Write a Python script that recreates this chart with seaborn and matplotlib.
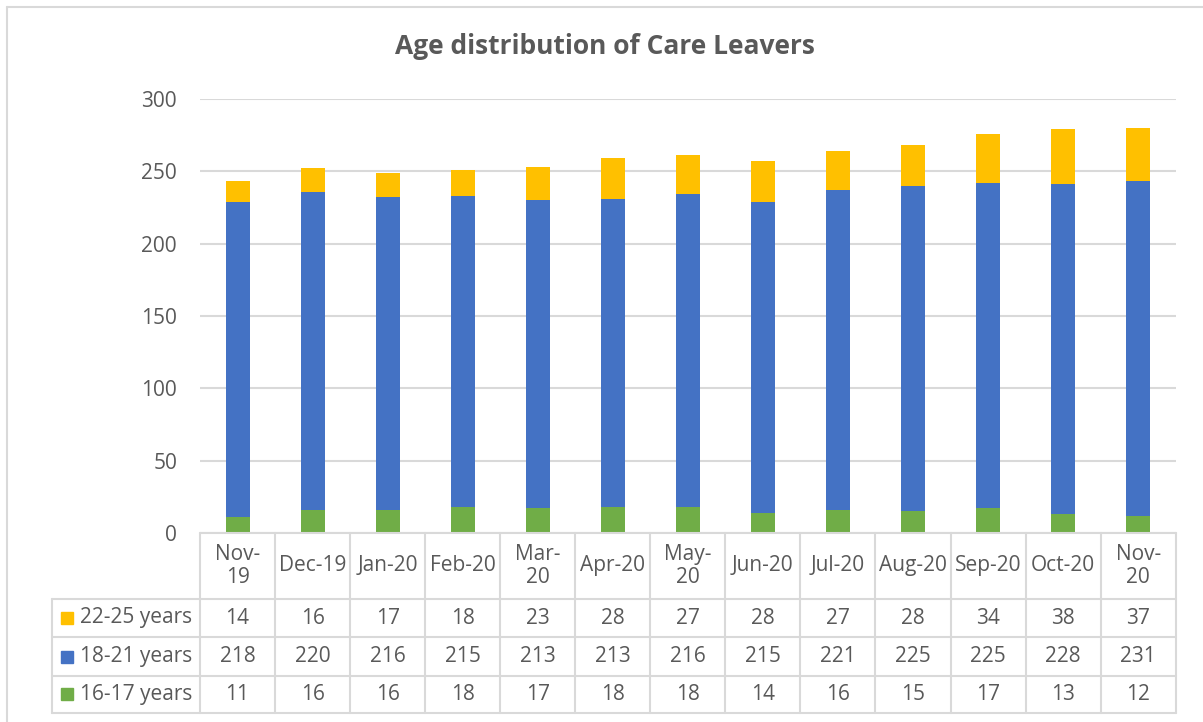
import matplotlib
matplotlib.use("Agg")
import matplotlib.pyplot as plt
import seaborn as sns
import pandas as pd
import numpy as np
from matplotlib.lines import Line2D
from matplotlib.patches import Rectangle

months = ["Nov-19", "Dec-19", "Jan-20", "Feb-20", "Mar-20", "Apr-20", "May-20",
          "Jun-20", "Jul-20", "Aug-20", "Sep-20", "Oct-20", "Nov-20"]
header_labels = ["Nov-\n19", "Dec-19", "Jan-20", "Feb-20", "Mar-\n20", "Apr-20", "May-\n20",
                 "Jun-20", "Jul-20", "Aug-20", "Sep-20", "Oct-20", "Nov-\n20"]
age_22_25 = [14, 16, 17, 18, 23, 28, 27, 28, 27, 28, 34, 38, 37]
age_18_21 = [218, 220, 216, 215, 213, 213, 216, 215, 221, 225, 225, 228, 231]
age_16_17 = [11, 16, 16, 18, 17, 18, 18, 14, 16, 15, 17, 13, 12]
series_names = ["22-25 years", "18-21 years", "16-17 years"]
colors = {"22-25 years": "#FFC000", "18-21 years": "#4472C4", "16-17 years": "#70AD47"}
yticks = [0, 50, 100, 150, 200, 250, 300]

sns.set_theme(style="white")
plt.rcParams['font.family'] = ['Open Sans', 'DejaVu Sans']
TXT = "#595959"
GRID = "#D9D9D9"
FS = 15

W, H = 1203, 722
fig = plt.figure(figsize=(W / 100, H / 100), dpi=100)

def fx(px):
    return px / W

def fy(py):
    return 1 - py / H

x0, x1 = 200, 1175.7
y_top, y_zero = 99, 533
ax = fig.add_axes([fx(x0), fy(y_zero), fx(x1) - fx(x0), (y_zero - y_top) / H])

df = pd.DataFrame({"month": months, "a": age_16_17, "b": age_18_21, "c": age_22_25})
df["ab"] = df["a"] + df["b"]
df["abc"] = df["ab"] + df["c"]

bw = 0.32
sns.barplot(data=df, x="month", y="abc", color=colors["22-25 years"], saturation=1,
            width=bw, ax=ax, order=months, edgecolor="none")
sns.barplot(data=df, x="month", y="ab", color=colors["18-21 years"], saturation=1,
            width=bw, ax=ax, order=months, edgecolor="none")
sns.barplot(data=df, x="month", y="a", color=colors["16-17 years"], saturation=1,
            width=bw, ax=ax, order=months, edgecolor="none")

ax.set_xlim(-0.5, len(months) - 0.5)
ax.set_ylim(0, 300)
ax.set_yticks(yticks)
ax.set_yticklabels([str(v) for v in yticks], fontsize=FS, color=TXT)
ax.tick_params(axis="y", length=0, pad=16.5)
ax.set_xticks([])
ax.set_xlabel("")
ax.set_ylabel("")
for s in ax.spines.values():
    s.set_visible(False)
ax.grid(axis="y", color=GRID, linewidth=1.5)
ax.set_axisbelow(True)

# Title
fig.text(fx(605), fy(47), "Age distribution of Care Leavers", ha="center", va="center",
         fontsize=19, fontweight="bold", color=TXT)

# Figure border
fig.add_artist(Line2D([fx(7), fx(7)], [fy(7), fy(722)], color=GRID, lw=1.5))
fig.add_artist(Line2D([fx(7), fx(1203)], [fy(7), fy(7)], color=GRID, lw=1.5))

# Data table
colw = (x1 - x0) / len(months)
rows_y = [533, 598.7, 637.3, 675.7, 713]
tl = 52
lw = 1.5
fig.add_artist(Line2D([fx(x0), fx(x1)], [fy(rows_y[0])] * 2, color=GRID, lw=lw))
for yy in rows_y[1:]:
    fig.add_artist(Line2D([fx(tl), fx(x1)], [fy(yy)] * 2, color=GRID, lw=lw))
fig.add_artist(Line2D([fx(tl)] * 2, [fy(rows_y[1]), fy(rows_y[-1])], color=GRID, lw=lw))
for i in range(len(months) + 1):
    xx = x0 + i * colw
    fig.add_artist(Line2D([fx(xx)] * 2, [fy(rows_y[0]), fy(rows_y[-1])], color=GRID, lw=lw))

for i, lab in enumerate(header_labels):
    cx = x0 + (i + 0.5) * colw
    fig.text(fx(cx), fy((rows_y[0] + rows_y[1]) / 2), lab, ha="center", va="center",
             fontsize=FS, color=TXT, linespacing=1.1)

table_series = [age_22_25, age_18_21, age_16_17]
for r, (name, vals) in enumerate(zip(series_names, table_series)):
    cy = (rows_y[r + 1] + rows_y[r + 2]) / 2
    fig.add_artist(Rectangle((fx(61), fy(cy + 6)), fx(12), 12 / H, color=colors[name],
                             transform=fig.transFigure))
    fig.text(fx(80), fy(cy), name, ha="left", va="center", fontsize=FS, color=TXT)
    for i, v in enumerate(vals):
        cx = x0 + (i + 0.5) * colw
        fig.text(fx(cx), fy(cy), str(v), ha="center", va="center", fontsize=FS, color=TXT)

fig.savefig("out.png", dpi=100)
